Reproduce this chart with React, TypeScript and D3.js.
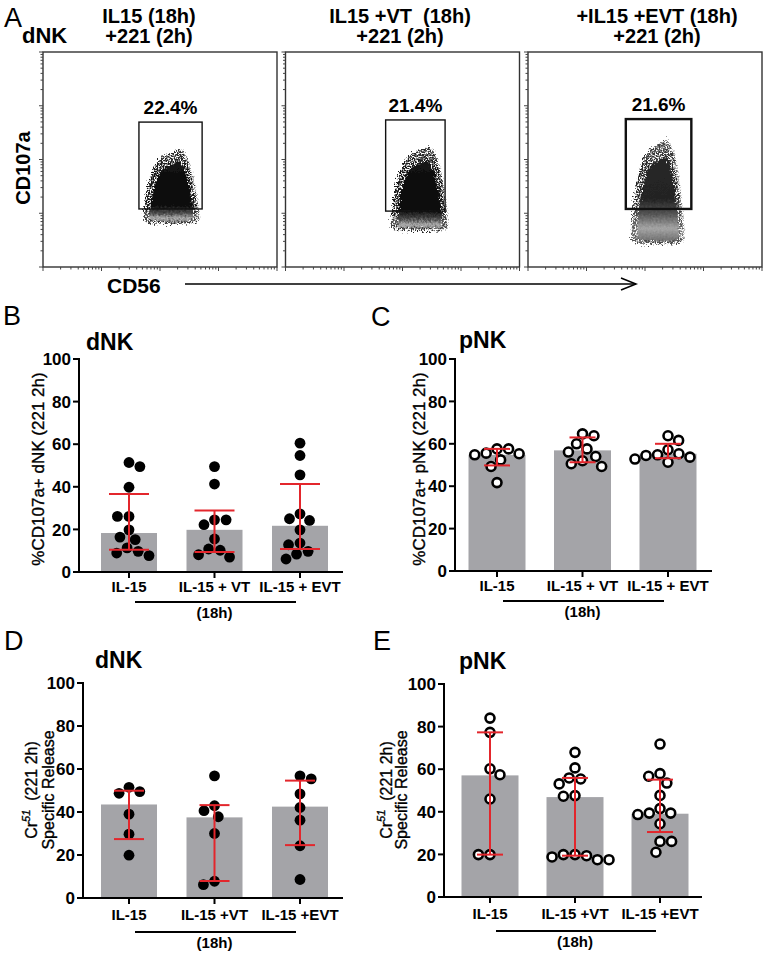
import * as d3 from "d3";

// ---- panel A: flow cytometry (channel units 0..1000) ----
const flowTitles = ["IL15 (18h)", "IL15 +VT  (18h)", "+IL15 +EVT (18h)"];
const flowSubtitle = "+221 (2h)";
const gatePercents = ["22.4%", "21.4%", "21.6%"];
const gateLeft = [410, 428, 418];
const gateRight = [680, 682, 698];
const gateBottom = [270, 260, 270];
const gateTop = [674, 684, 688];
const cloudLeft = [432, 453, 444];
const cloudRight = [667, 695, 668];
const cloudBottom = [205, 172, 112];
const cloudTop = [544, 558, 590];

// ---- panels B-E ----
const degranCats = ["IL-15", "IL-15 + VT", "IL-15 + EVT"];
const lysisCats = ["IL-15", "IL-15 +VT", "IL-15 +EVT"];
const yTicks = [0, 20, 40, 60, 80, 100];

// B: dNK %CD107a+
const dnkCd107 = [
  [49.5, 51.4, 39.8, 26.1, 26.1, 19.8, 16.4, 15.2, 9.7, 7.7, 8.9, 11.3],
  [49.5, 41.3, 24.5, 24.5, 22.2, 15.5, 10.2, 10.8, 7.0, 8.1],
  [60.5, 54.7, 45.6, 27.3, 25.0, 24.2, 19.8, 13.6, 12.8, 9.7, 8.4, 6.1],
];
const dnkCd107Median = [18.3, 19.8, 21.7];
const dnkCd107Low = [10.5, 9.4, 10.8];
const dnkCd107High = [36.6, 28.9, 41.3];

// C: pNK %CD107a+
const pnkCd107 = [
  [55.6, 57.6, 55.3, 57.6, 54.8, 52.4, 49.3, 41.7],
  [63.8, 64.7, 57.6, 56.1, 60.0, 54.0, 50.6, 49.3, 52.0],
  [63.8, 61.6, 54.8, 54.5, 53.7, 51.3, 52.8, 55.3, 57.2],
];
const pnkCd107Median = [54.8, 56.9, 55.3];
const pnkCd107Low = [49.8, 51.3, 53.2];
const pnkCd107High = [57.6, 63.0, 60.0];

// D: dNK Cr51 release
const dnkCr = [
  [49.5, 48.7, 51.5, 39.0, 29.7, 19.9],
  [56.8, 42.9, 40.6, 37.8, 30.0, 6.2, 7.8],
  [55.4, 56.8, 48.4, 42.1, 36.2, 24.3, 8.6],
];
const dnkCrMedian = [43.5, 37.5, 42.5];
const dnkCrLow = [27.4, 7.9, 24.6];
const dnkCrHigh = [49.9, 43.2, 54.6];

// E: pNK Cr51 release
const pnkCr = [
  [84.0, 77.3, 57.4, 60.2, 46.0, 19.9, 19.9],
  [67.9, 60.6, 55.4, 53.1, 55.9, 47.6, 47.3, 19.9, 18.8, 17.5, 17.5, 19.4, 19.9],
  [71.8, 56.7, 57.9, 53.5, 47.7, 39.4, 38.7, 41.5, 39.4, 34.4, 26.1, 26.1, 21.0],
];
const pnkCrMedian = [57.1, 46.9, 39.1];
const pnkCrLow = [19.9, 19.4, 30.5];
const pnkCrHigh = [77.3, 55.9, 55.1];

const FONT = "'Liberation Sans', Arial, Helvetica, sans-serif";
const RED = "#e3262c";
const BAR = "#a4a4a8";

// simple beeswarm: returns x offsets for y pixel positions
const swarm = (ys: number[], d: number) => {
  const order = ys.map((_, i) => i).sort((a, b) => ys[a] - ys[b]);
  const placed: { x: number; y: number }[] = [];
  const xs: number[] = new Array(ys.length).fill(0);
  order.forEach((i, n) => {
    const y = ys[i];
    const cands = [0];
    placed.forEach((p) => {
      const dy = Math.abs(p.y - y);
      if (dy < d) {
        const dx = Math.sqrt(d * d - dy * dy);
        cands.push(p.x + dx, p.x - dx);
      }
    });
    const ok = cands.filter((c) =>
      placed.every((p) => (p.x - c) ** 2 + (p.y - y) ** 2 >= d * d - 0.01)
    );
    const sign = n % 2 === 0 ? 1 : -1;
    ok.sort((a, b) => Math.abs(a) - Math.abs(b) || sign * (a - b));
    xs[i] = ok[0];
    placed.push({ x: ok[0], y });
  });
  return xs;
};

// outline of the event cloud (unit coords: u across, v up)
const mound: [number, number][] = [
  [-0.8, 0], [-1, 0.1], [-0.95, 0.3], [-0.82, 0.55], [-0.62, 0.76], [-0.36, 0.9],
  [0.02, 0.96], [0.35, 1], [0.62, 0.86], [0.8, 0.62], [0.92, 0.36], [1, 0.12], [0.84, 0],
];

const FlowPlot = ({ i }: { i: number }) => {
  const left = 43 + i * 242.5;
  const top = 52;
  const w = 234;
  const h = 215;
  const x = d3.scaleLinear().domain([0, 1000]).range([0, w]);
  const y = d3.scaleLinear().domain([0, 1000]).range([h, 0]);
  const lx = d3.scaleLog().domain([10, 1e5]).range([0, w]);
  const ly = d3.scaleLog().domain([10, 1e5]).range([h, 0]);
  const ticks = lx.ticks();
  const major = (t: number) => Math.abs(Math.log10(t) - Math.round(Math.log10(t))) < 1e-6;

  const cx = (x(cloudLeft[i]) + x(cloudRight[i])) / 2;
  const hw = (x(cloudRight[i]) - x(cloudLeft[i])) / 2;
  const yb = y(cloudBottom[i]);
  const ch = y(cloudBottom[i]) - y(cloudTop[i]);
  const outline = (su: number, sv: number, lift: number) =>
    d3.line().curve(d3.curveCardinalClosed.tension(0.1))(
      mound.map(([u, v]) => [cx + u * hw * su, yb - lift * ch - v * ch * sv] as [number, number])
    ) ?? "";
  const g = i === 2 ? "B" : "A";

  return (
    <g transform={`translate(${left},${top})`}>
      <rect width={w} height={h} fill="white" stroke="#333" strokeWidth={1.4} />
      {ticks.map((t, k) => (
        <line key={"b" + k} x1={lx(t)} x2={lx(t)} y1={h} y2={h + (major(t) ? 4 : 2.5)} stroke="#444" strokeWidth={1} />
      ))}
      {ticks.map((t, k) => (
        <line key={"l" + k} y1={ly(t)} y2={ly(t)} x1={0} x2={-(major(t) ? 4 : 2.5)} stroke="#444" strokeWidth={1} />
      ))}
      <path d={outline(1, 1, 0)} fill={`url(#cloudGrad${g})`} filter="url(#speckle)" />
      <path d={outline(0.78, 0.8, 0.03)} fill={`url(#coreGrad${g})`} filter="url(#ragged)" />
      <rect
        x={x(gateLeft[i])}
        y={y(gateTop[i])}
        width={x(gateRight[i]) - x(gateLeft[i])}
        height={y(gateBottom[i]) - y(gateTop[i])}
        fill="none"
        stroke="#111"
        strokeWidth={i === 2 ? 2.4 : 1.4}
      />
      <text
        x={(x(gateLeft[i]) + x(gateRight[i])) / 2}
        y={y(gateTop[i]) - 8}
        textAnchor="middle"
        fontSize={19}
        fontWeight="bold"
      >
        {gatePercents[i]}
      </text>
    </g>
  );
};

type Layout = {
  ox: number; y0: number; y100: number; xEnd: number; c1: number; c3: number;
  barW: number; cap: number; titleX: number; titleY: number; letterX: number; letterY: number;
  labDy: number; lineDy: number; noteDy: number;
};

const BarPanel = ({
  L, cats, points, median, low, high, open, title, letter, ylabel,
}: {
  L: Layout; cats: string[]; points: number[][]; median: number[]; low: number[]; high: number[];
  open: boolean; title: string; letter: string; ylabel: React.ReactNode;
}) => {
  const y = d3.scaleLinear().domain([0, 100]).range([L.y0, L.y100]);
  const x = d3.scalePoint<string>().domain(cats).range([L.c1, L.c3]);
  const r = 5.4;
  return (
    <g>
      <text x={L.letterX} y={L.letterY} fontSize={27}>{letter}</text>
      <text x={L.titleX} y={L.titleY} fontSize={23} fontWeight="bold">{title}</text>
      {ylabel}
      {cats.map((c, i) => (
        <rect key={c} x={x(c)! - L.barW / 2} y={y(median[i])} width={L.barW} height={L.y0 - y(median[i])} fill={BAR} />
      ))}
      {cats.map((c, i) => {
        const ys = points[i].map((v) => y(v));
        const xs = swarm(ys, 2 * r + 0.8);
        return (
          <g key={"p" + c}>
            {ys.map((py, k) => (
              <circle
                key={k}
                cx={x(c)! + xs[k]}
                cy={py}
                r={open ? r - 0.9 : r}
                fill={open ? "white" : "black"}
                stroke="black"
                strokeWidth={open ? 2.6 : 0}
              />
            ))}
          </g>
        );
      })}
      {cats.map((c, i) => {
        const cx = x(c)!;
        return (
          <g key={"e" + c} stroke={RED} strokeWidth={2}>
            <line x1={cx} x2={cx} y1={y(low[i])} y2={y(high[i])} />
            <line x1={cx - L.cap} x2={cx + L.cap} y1={y(low[i])} y2={y(low[i])} />
            <line x1={cx - L.cap} x2={cx + L.cap} y1={y(high[i])} y2={y(high[i])} />
          </g>
        );
      })}
      <g stroke="black" strokeWidth={2}>
        <line x1={L.ox} x2={L.ox} y1={L.y100 - 1} y2={L.y0} />
        <line x1={L.ox - 1} x2={L.xEnd} y1={L.y0} y2={L.y0} />
        {yTicks.map((t) => (
          <line key={t} x1={L.ox - 6} x2={L.ox} y1={y(t)} y2={y(t)} />
        ))}
        {cats.map((c) => (
          <line key={c} x1={x(c)} x2={x(c)} y1={L.y0} y2={L.y0 + 6} />
        ))}
        <line x1={L.c1 + 6} x2={L.c3 - 4} y1={L.y0 + L.lineDy} y2={L.y0 + L.lineDy} />
      </g>
      {yTicks.map((t) => (
        <text key={t} x={L.ox - 8} y={y(t)} dy="0.36em" textAnchor="end" fontSize={17} fontWeight="bold">
          {t}
        </text>
      ))}
      {cats.map((c) => (
        <text key={c} x={x(c)} y={L.y0 + L.labDy} textAnchor="middle" fontSize={15} fontWeight="bold" style={{ whiteSpace: "pre" }}>
          {c}
        </text>
      ))}
      <text x={(L.c1 + L.c3) / 2} y={L.y0 + L.noteDy} textAnchor="middle" fontSize={15} fontWeight="bold">
        (18h)
      </text>
    </g>
  );
};

const crLabel = (x1: number, x2: number, cy: number) => (
  <g stroke="black" strokeWidth={0.35}>
    <text transform={`translate(${x1},${cy}) rotate(-90)`} textAnchor="middle" fontSize={16} style={{ whiteSpace: "pre" }}>
      Cr
      <tspan fontSize={11} fontStyle="italic" dy={-7}>51</tspan>
      <tspan dy={7}>{"  (221 2h)"}</tspan>
    </text>
    <text transform={`translate(${x2},${cy}) rotate(-90)`} textAnchor="middle" fontSize={16}>
      Specific Release
    </text>
  </g>
);

const layoutB: Layout = { ox: 79, y0: 572, y100: 359, xEnd: 343, c1: 129, c3: 300, barW: 56, cap: 20, titleX: 86, titleY: 350, letterX: 3, letterY: 325, labDy: 20, lineDy: 30, noteDy: 46 };
const layoutC: Layout = { ox: 455, y0: 571, y100: 359, xEnd: 712, c1: 497, c3: 668, barW: 57, cap: 13, titleX: 459, titleY: 348, letterX: 371, letterY: 326, labDy: 20, lineDy: 30, noteDy: 46 };
const layoutD: Layout = { ox: 83, y0: 898, y100: 683, xEnd: 343, c1: 129, c3: 300, barW: 56, cap: 15, titleX: 95, titleY: 668, letterX: 4, letterY: 650, labDy: 22, lineDy: 34, noteDy: 50 };
const layoutE: Layout = { ox: 444, y0: 897, y100: 684, xEnd: 702, c1: 490, c3: 660, barW: 57, cap: 13, titleX: 459, titleY: 669, letterX: 373, letterY: 650, labDy: 22, lineDy: 34, noteDy: 50 };

const App = () => {
  const headerX = [149, 400, 657];
  return (
    <svg
      width={768}
      height={954}
      fontFamily={FONT}
      style={{ position: "absolute", left: 0, top: 0, background: "white" }}
    >
      <defs>
        <linearGradient id="cloudGradA" x1="0" y1="0" x2="0" y2="1">
          <stop offset="0" stopColor="#333" />
          <stop offset="0.3" stopColor="#111" />
          <stop offset="0.78" stopColor="#151515" />
          <stop offset="0.9" stopColor="#555" />
          <stop offset="1" stopColor="#222" />
        </linearGradient>
        <linearGradient id="coreGradA" x1="0" y1="0" x2="0" y2="1">
          <stop offset="0" stopColor="#141414" />
          <stop offset="0.72" stopColor="#080808" />
          <stop offset="0.86" stopColor="#4a4a4a" />
          <stop offset="0.95" stopColor="#b0b0b0" />
          <stop offset="1" stopColor="#666" />
        </linearGradient>
        <linearGradient id="cloudGradB" x1="0" y1="0" x2="0" y2="1">
          <stop offset="0" stopColor="#4a4a4a" />
          <stop offset="0.3" stopColor="#222" />
          <stop offset="0.55" stopColor="#2c2c2c" />
          <stop offset="0.75" stopColor="#505050" />
          <stop offset="0.9" stopColor="#707070" />
          <stop offset="1" stopColor="#404040" />
        </linearGradient>
        <linearGradient id="coreGradB" x1="0" y1="0" x2="0" y2="1">
          <stop offset="0" stopColor="#262626" />
          <stop offset="0.5" stopColor="#242424" />
          <stop offset="0.68" stopColor="#555" />
          <stop offset="0.85" stopColor="#a5a5a5" />
          <stop offset="1" stopColor="#707070" />
        </linearGradient>
        <filter id="speckle" x="-20%" y="-20%" width="140%" height="140%">
          <feTurbulence type="fractalNoise" baseFrequency="0.7" numOctaves={2} seed={3} result="noise" />
          <feDisplacementMap in="SourceGraphic" in2="noise" scale={10} xChannelSelector="R" yChannelSelector="G" result="disp" />
          <feColorMatrix in="noise" type="matrix" values="0 0 0 0 0  0 0 0 0 0  0 0 0 0 0  5 0 0 0 -1.8" result="mask" />
          <feComposite in="disp" in2="mask" operator="in" />
        </filter>
        <filter id="ragged" x="-20%" y="-20%" width="140%" height="140%">
          <feTurbulence type="fractalNoise" baseFrequency="0.5" numOctaves={2} seed={7} result="noise" />
          <feDisplacementMap in="SourceGraphic" in2="noise" scale={7} xChannelSelector="R" yChannelSelector="G" />
        </filter>
      </defs>

      {/* Panel A */}
      <text x={4} y={27} fontSize={27}>A</text>
      <text x={22} y={43} fontSize={22} fontWeight="bold">dNK</text>
      {flowTitles.map((t, i) => (
        <g key={t} fontSize={20} fontWeight="bold" textAnchor="middle">
          <text x={headerX[i]} y={23} style={{ whiteSpace: "pre" }}>{t}</text>
          <text x={headerX[i]} y={43}>{flowSubtitle}</text>
        </g>
      ))}
      {[0, 1, 2].map((i) => (
        <FlowPlot key={i} i={i} />
      ))}
      <text transform="translate(30,168) rotate(-90)" textAnchor="middle" fontSize={20} fontWeight="bold">
        CD107a
      </text>
      <text x={107} y={293} fontSize={21} fontWeight="bold">CD56</text>
      <g stroke="black" strokeWidth={1.5} fill="none">
        <line x1={185} x2={636} y1={284} y2={284} />
        <polyline points="621,278 636,284 621,290" />
      </g>

      <BarPanel
        L={layoutB} cats={degranCats} points={dnkCd107} median={dnkCd107Median} low={dnkCd107Low} high={dnkCd107High}
        open={false} title="dNK" letter="B"
        ylabel={
          <text transform="translate(44,469) rotate(-90)" textAnchor="middle" fontSize={17} stroke="black" strokeWidth={0.35}>%CD107a+ dNK (221 2h)</text>
        }
      />
      <BarPanel
        L={layoutC} cats={degranCats} points={pnkCd107} median={pnkCd107Median} low={pnkCd107Low} high={pnkCd107High}
        open={true} title="pNK" letter="C"
        ylabel={
          <text transform="translate(425,469) rotate(-90)" textAnchor="middle" fontSize={17} stroke="black" strokeWidth={0.35}>%CD107a+ pNK (221 2h)</text>
        }
      />
      <BarPanel
        L={layoutD} cats={lysisCats} points={dnkCr} median={dnkCrMedian} low={dnkCrLow} high={dnkCrHigh}
        open={false} title="dNK" letter="D"
        ylabel={crLabel(37, 54, 790)}
      />
      <BarPanel
        L={layoutE} cats={lysisCats} points={pnkCr} median={pnkCrMedian} low={pnkCrLow} high={pnkCrHigh}
        open={true} title="pNK" letter="E"
        ylabel={crLabel(392, 407, 790)}
      />
    </svg>
  );
};

export default App;
